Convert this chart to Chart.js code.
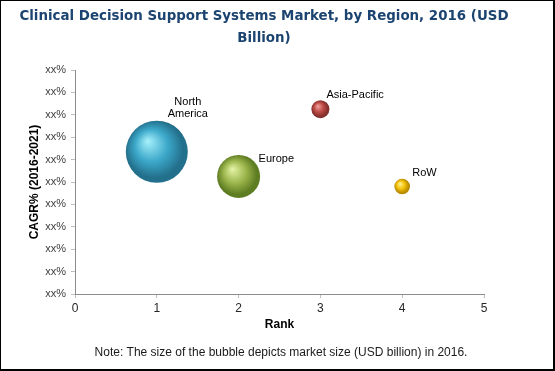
<!DOCTYPE html>
<html>
<head>
<meta charset="utf-8">
<script src="https://cdn.jsdelivr.net/npm/chart.js@4.4.1/dist/chart.umd.min.js"></script>
<style>
  html, body { margin: 0; padding: 0; background: #fff; }
  #wrap { position: relative; width: 555px; height: 371px; }
  #frame { position: absolute; left: 0; top: 0; width: 555px; height: 371px; box-sizing: border-box;
           border-left: 1px solid #000; border-top: 1px solid #000; border-right: 2px solid #000; border-bottom: 2px solid #000; pointer-events: none; }
  canvas { display: block; }
</style>
</head>
<body>
<div id="wrap">
  <canvas id="c" width="555" height="371"></canvas>
  <div id="frame"></div>
</div>
<script>
// ---- data ----
const titleLines = ["Clinical Decision Support Systems Market, by Region, 2016 (USD", "Billion)"];
const regions = ["North America", "Europe", "Asia-Pacific", "RoW"];
const rankValues = [1, 2, 3, 4];
const cagrValues = [6.35, 5.25, 8.25, 4.8];
const bubbleSizes = [31, 21.5, 9, 7.8];
const yTickLabels = ["xx%","xx%","xx%","xx%","xx%","xx%","xx%","xx%","xx%","xx%","xx%"];
const xTitle = "Rank";
const yTitle = "CAGR% (2016-2021)";
const noteText = "Note: The size of the bubble depicts market size (USD billion) in 2016.";

// ---- styles ----
const sphereColors = [
  { hi: "#A8F2FC", mid: "#3CA8CA", lo: "#23708C" },
  { hi: "#E6F4A8", mid: "#9CB64C", lo: "#5E7C22" },
  { hi: "#F0A6A2", mid: "#BE4A45", lo: "#82302C" },
  { hi: "#FFF59A", mid: "#F2C008", lo: "#B88A00" }
];
const labelStyles = [
  { lines: ["North", "America"], dx: 31, dy: -50, align: "center" },
  { lines: ["Europe"], dx: 20, dy: -17, align: "left" },
  { lines: ["Asia-Pacific"], dx: 6, dy: -14, align: "left" },
  { lines: ["RoW"], dx: 10, dy: -14, align: "left" }
];

function sphere(ctx) {
  const chart = ctx.chart;
  const xs = chart.scales.x, ys = chart.scales.y;
  if (!xs || !ys || ctx.dataIndex === undefined) return sphereColors[0].mid;
  const raw = ctx.raw;
  const x = xs.getPixelForValue(raw.x), y = ys.getPixelForValue(raw.y), r = raw.r;
  if (!isFinite(x) || !isFinite(y)) return sphereColors[ctx.dataIndex].mid;
  const c = sphereColors[ctx.dataIndex];
  const g = chart.ctx.createRadialGradient(x - 0.3 * r, y - 0.35 * r, 0, x - 0.05 * r, y - 0.05 * r, r * 1.05);
  g.addColorStop(0, c.hi);
  g.addColorStop(0.5, c.mid);
  g.addColorStop(0.88, c.lo);
  g.addColorStop(1, c.lo);
  return g;
}

const textPlugin = {
  id: "texts",
  afterDraw(chart) {
    const ctx = chart.ctx;
    ctx.save();
    // title
    ctx.fillStyle = "#1C4470";
    ctx.font = "bold 13.4px 'DejaVu Sans', Verdana, sans-serif";
    ctx.textAlign = "center";
    ctx.textBaseline = "middle";
    titleLines.forEach((t, i) => ctx.fillText(t, 264, 17 + i * 22));
    // note
    ctx.fillStyle = "#1a1a1a";
    ctx.font = "12px 'Liberation Sans', Arial, sans-serif";
    ctx.fillText(noteText, 281, 353);
    // data labels
    ctx.fillStyle = "#000";
    ctx.font = "11px 'Liberation Sans', Arial, sans-serif";
    const meta = chart.getDatasetMeta(0);
    meta.data.forEach((el, i) => {
      const s = labelStyles[i];
      ctx.textAlign = s.align;
      s.lines.forEach((ln, k) => ctx.fillText(ln, el.x + s.dx, el.y + s.dy + k * 12));
    });
    ctx.restore();
  }
};

new Chart(document.getElementById("c"), {
  type: "bubble",
  data: {
    datasets: [{
      label: "Regions",
      data: regions.map((name, i) => ({ x: rankValues[i], y: cagrValues[i], r: bubbleSizes[i] })),
      backgroundColor: sphere,
      borderWidth: 0,
      hoverBorderWidth: 0
    }]
  },
  options: {
    responsive: false,
    animation: false,
    events: [],
    layout: { padding: { left: 20, top: 70, right: 71, bottom: 35 } },
    plugins: { legend: { display: false }, tooltip: { enabled: false }, title: { display: false } },
    scales: {
      x: {
        type: "linear", min: 0, max: 5,
        ticks: { stepSize: 1, color: "#262626", font: { size: 12, family: "'Liberation Sans', Arial" }, padding: 3 },
        grid: { drawOnChartArea: false, drawTicks: true, tickLength: 4, color: "#bfbfbf" },
        border: { color: "#8c8c8c" },
        title: { display: true, text: xTitle, color: "#000", font: { size: 12, weight: "bold", family: "'Liberation Sans', Arial" }, padding: { top: 0, bottom: 4 } },
        afterFit(s) { s.height = 42; }
      },
      y: {
        type: "linear", min: 0, max: 10,
        ticks: { stepSize: 1, color: "#404040", font: { size: 11, family: "'Liberation Sans', Arial" }, padding: 5,
                 callback: (v, i) => yTickLabels[i] },
        grid: { drawOnChartArea: false, drawTicks: true, tickLength: 4, color: "#bfbfbf" },
        border: { color: "#8c8c8c" },
        title: { display: true, text: yTitle, color: "#000", font: { size: 12, weight: "bold", family: "'Liberation Sans', Arial" }, padding: { top: 7, bottom: 0 } },
        afterFit(s) { s.width = 55; }
      }
    }
  },
  plugins: [textPlugin]
});
</script>
</body>
</html>
